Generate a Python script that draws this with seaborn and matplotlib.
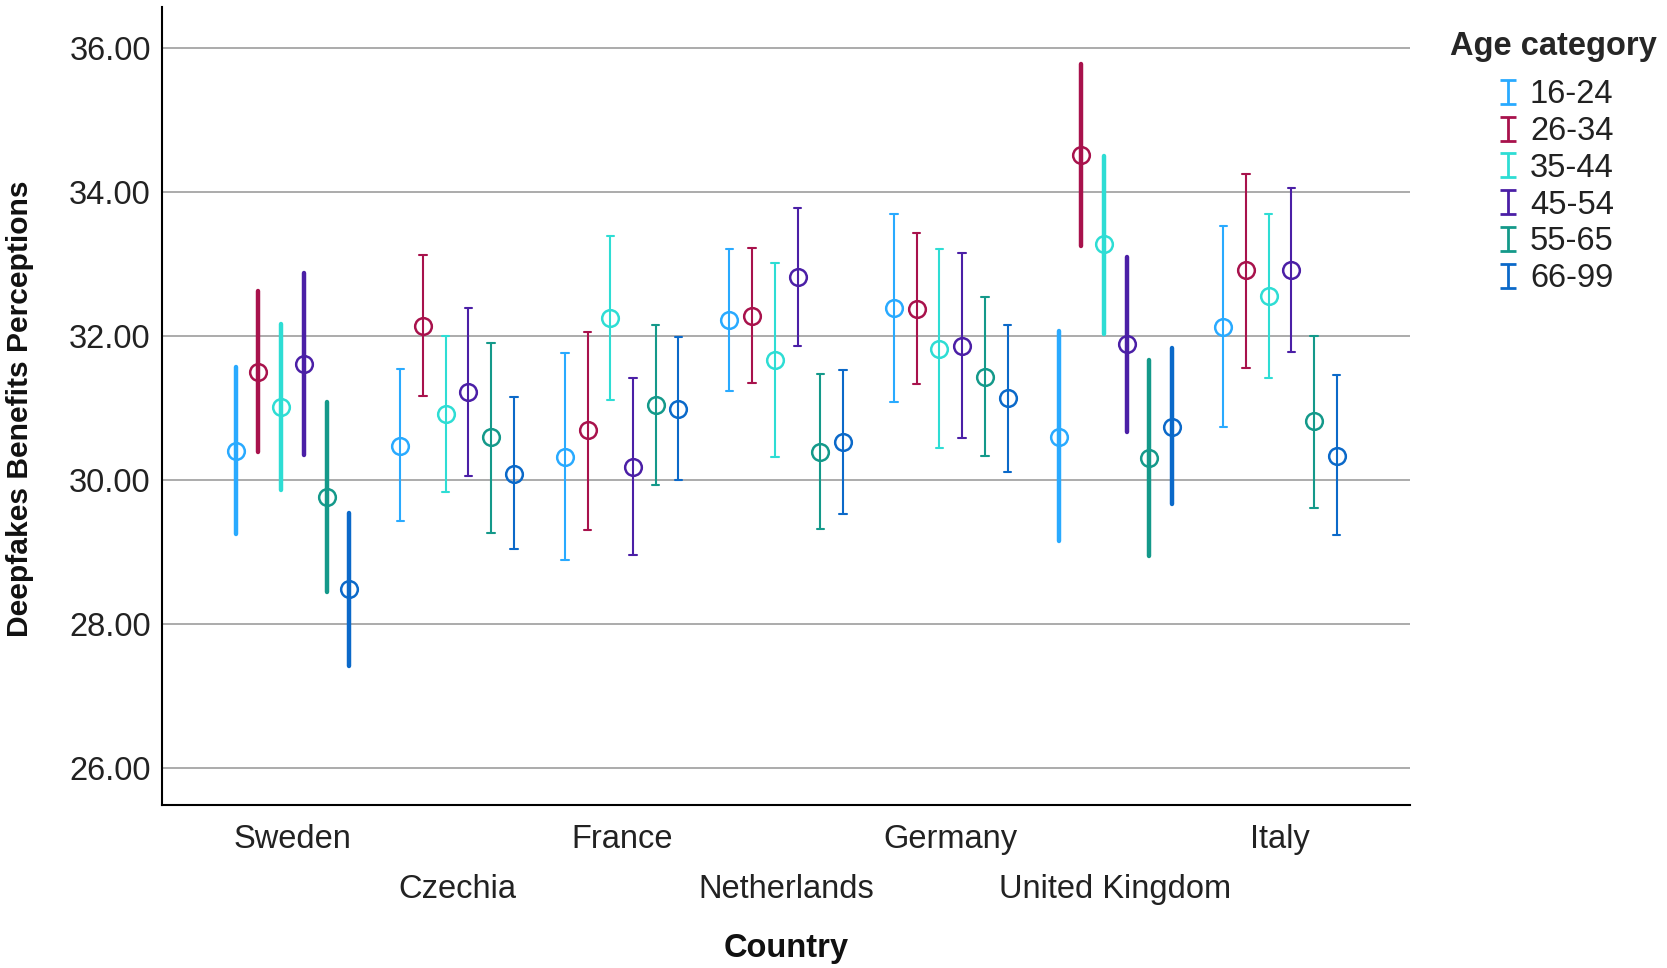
import numpy as np
import pandas as pd
import matplotlib
matplotlib.use("Agg")
import matplotlib.pyplot as plt
import seaborn as sns
from matplotlib.path import Path
from matplotlib.lines import Line2D
from matplotlib.transforms import ScaledTranslation
from matplotlib.ticker import FormatStrFormatter

countries = ["Sweden", "Czechia", "France", "Netherlands", "Germany", "United Kingdom", "Italy"]
ages = ["16-24", "26-34", "35-44", "45-54", "55-65", "66-99"]
colors = ["#29AAFF", "#A8124C", "#2EDDD4", "#4B1FA6", "#14998A", "#0B69C9"]

mean_16_24 = [30.40, 30.47, 30.32, 32.22, 32.38, 30.60, 32.12]
mean_26_34 = [31.50, 32.14, 30.69, 32.28, 32.37, 34.52, 32.91]
mean_35_44 = [31.01, 30.91, 32.25, 31.67, 31.82, 33.28, 32.55]
mean_45_54 = [31.61, 31.22, 30.18, 32.82, 31.86, 31.88, 32.92]
mean_55_65 = [29.76, 30.59, 31.04, 30.39, 31.43, 30.30, 30.81]
mean_66_99 = [28.48, 30.08, 30.98, 30.52, 31.14, 30.74, 30.33]

low_16_24 = [29.24, 29.42, 28.88, 31.23, 31.08, 29.15, 30.73]
low_26_34 = [30.38, 31.16, 29.30, 31.35, 31.33, 33.25, 31.55]
low_35_44 = [29.86, 29.83, 31.11, 30.32, 30.44, 32.03, 31.41]
low_45_54 = [30.35, 30.05, 28.96, 31.86, 30.58, 30.66, 31.78]
low_55_65 = [28.44, 29.26, 29.93, 29.31, 30.33, 28.94, 29.61]
low_66_99 = [27.41, 29.04, 29.99, 29.52, 30.11, 29.67, 29.23]

high_16_24 = [31.57, 31.54, 31.76, 33.20, 33.70, 32.07, 33.52]
high_26_34 = [32.63, 33.12, 32.06, 33.22, 33.43, 35.78, 34.25]
high_35_44 = [32.16, 32.00, 33.39, 33.01, 33.20, 34.50, 33.69]
high_45_54 = [32.88, 32.39, 31.41, 33.78, 33.15, 33.09, 34.05]
high_55_65 = [31.08, 31.90, 32.15, 31.47, 32.54, 31.66, 32.00]
high_66_99 = [29.54, 31.15, 31.99, 31.52, 32.15, 31.83, 31.46]

y_ticks = [26, 28, 30, 32, 34, 36]
thick_countries = ["Sweden", "United Kingdom"]

means = [mean_16_24, mean_26_34, mean_35_44, mean_45_54, mean_55_65, mean_66_99]
lows = [low_16_24, low_26_34, low_35_44, low_45_54, low_55_65, low_66_99]
highs = [high_16_24, high_26_34, high_35_44, high_45_54, high_55_65, high_66_99]

rows = []
for age, m_list, lo_list, hi_list in zip(ages, means, lows, highs):
    for c, lo, m, hi in zip(countries, lo_list, m_list, hi_list):
        for v in (lo, m, hi):
            rows.append({"Country": c, "Age": age, "value": v})
df = pd.DataFrame(rows)

sns.set_theme(style="white")
plt.rcParams["font.family"] = ["Liberation Sans", "DejaVu Sans"]
FS = 23.5

fig = plt.figure(figsize=(16.67, 9.68), dpi=100)
ax = fig.add_axes([162 / 1667, 1 - 805 / 968, (1410 - 162) / 1667, (805 - 7) / 968])

palette = dict(zip(ages, colors))
common = dict(x="Country", y="value", hue="Age", order=countries, hue_order=ages,
              palette=palette, estimator="median", errorbar=("pi", 100),
              dodge=0.69, linestyle="none", markers="o", markersize=12,
              markerfacecolor="none", markeredgewidth=1.8, legend=False, ax=ax)

sns.pointplot(data=df[~df["Country"].isin(thick_countries)], capsize=0.045,
              err_kws={"linewidth": 1.5}, **common)
sns.pointplot(data=df[df["Country"].isin(thick_countries)], capsize=0,
              err_kws={"linewidth": 3.2}, **common)

ax.set_xlim(-0.793, 6.79)
ax.set_ylim(25.48, 36.57)
ax.set_yticks(y_ticks)
ax.yaxis.set_major_formatter(FormatStrFormatter("%.2f"))
ax.grid(axis="y", color="#ababab", linewidth=1.4)
ax.grid(axis="x", visible=False)
ax.set_axisbelow(True)
for side in ["top", "right"]:
    ax.spines[side].set_visible(False)
for side in ["left", "bottom"]:
    ax.spines[side].set_color("black")
    ax.spines[side].set_linewidth(1.5)

ax.tick_params(axis="y", length=0, pad=8, labelsize=FS, labelcolor="#222222")
ax.tick_params(axis="x", length=0, pad=14, labelsize=FS, labelcolor="#222222")
ax.set_xticks(range(len(countries)))
ax.set_xticklabels(countries)
for i, lab in enumerate(ax.get_xticklabels()):
    if i % 2 == 1:
        lab.set_transform(lab.get_transform() + ScaledTranslation(0, -0.50, fig.dpi_scale_trans))

ax.set_xlabel("")
ax.set_ylabel("")
fig.text(786 / 1667, 1 - 948 / 968, "Country", ha="center", va="center",
         fontsize=FS, fontweight="bold", color="#111111")
fig.text(20 / 1667, 1 - 409 / 968, "Deepfakes Benefits Perceptions", ha="center", va="center",
         rotation=90, fontsize=21.6, fontweight="bold", color="#111111")

I_path = Path([(-0.33, 0.5), (0.33, 0.5), (0, 0.5), (0, -0.5), (-0.33, -0.5), (0.33, -0.5)],
              [Path.MOVETO, Path.LINETO, Path.MOVETO, Path.LINETO, Path.MOVETO, Path.LINETO])
handles = [Line2D([], [], linestyle="none", marker=I_path, markersize=17, markeredgewidth=2,
                  color=c, markerfacecolor="none") for c in colors]
leg = ax.legend(handles, ages, title="Age category", loc="upper left",
                bbox_to_anchor=(1450 / 1667, 1 - 31.5 / 968), bbox_transform=fig.transFigure,
                frameon=False, fontsize=FS,
                title_fontproperties={"weight": "bold", "size": FS},
                handlelength=3.55, handletextpad=-1.1, labelspacing=0.175,
                borderpad=0, borderaxespad=0)
leg._legend_box.align = "left"
leg._legend_box.sep = 12.2
for t in leg.get_texts():
    t.set_color("#222222")

fig.savefig("out.png", dpi=100)
